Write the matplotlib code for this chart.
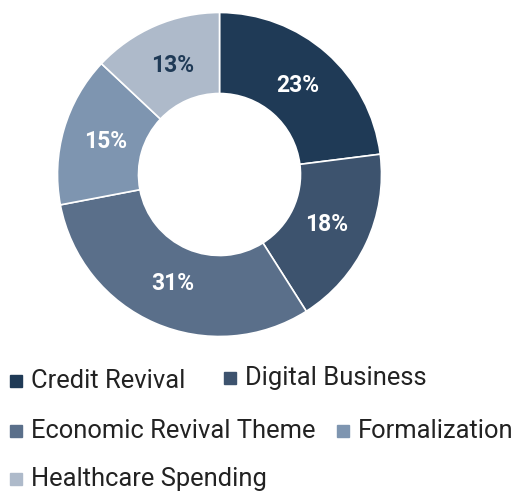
import numpy as np
import matplotlib.pyplot as plt
from matplotlib.patches import Rectangle

# donut of theme weights
labels = ['Credit Revival', 'Digital Business', 'Economic Revival Theme',
          'Formalization', 'Healthcare Spending']
values = [23, 18, 31, 15, 13]
colors = ['#1f3a56', '#3d536e', '#5a6f8a', '#7e95b0', '#aebaca']
label_colors = ['white', 'white', 'white', 'white', '#1f3a56']

W, H = 518, 496
fig = plt.figure(figsize=(W / 100, H / 100), dpi=100)

# pie axes: centre (219.5, 174.5) px from top, radius 162 px
cx, cy, r = 219.5, 174.5, 162
half = 166
ax = fig.add_axes([(cx - half) / W, (H - cy - half) / H, 2 * half / W, 2 * half / H])
wedges, _ = ax.pie(values, colors=colors, startangle=90, counterclock=False,
                   wedgeprops=dict(width=0.5, edgecolor='white', linewidth=1.2))
ang = 90
for v, c in zip(values, label_colors):
    mid = np.deg2rad(ang - v / 2 * 3.6)
    ax.text(0.73 * np.cos(mid), 0.73 * np.sin(mid), f'{v}%', ha='center', va='center',
            color=c, fontsize=16.5, fontweight='bold', family='Roboto')
    ang -= v * 3.6
ax.set_xlim(-half / r, half / r)
ax.set_ylim(-half / r, half / r)
ax.set_aspect('equal')
ax.axis('off')

# legend laid out like the original (flowing rows)
pos = [(10, 381), (224, 378), (10, 431), (337, 431), (10, 479)]
for (x, y), lab, col in zip(pos, labels, colors):
    fig.patches.append(Rectangle((x / W, (H - y - 6) / H), 12 / W, 12 / H,
                                 transform=fig.transFigure, color=col))
    fig.text((x + 21) / W, (H - y) / H, lab, fontsize=18.4, family='Roboto',
             color='#222222', va='center', ha='left')

fig.savefig('out.png', dpi=100)
